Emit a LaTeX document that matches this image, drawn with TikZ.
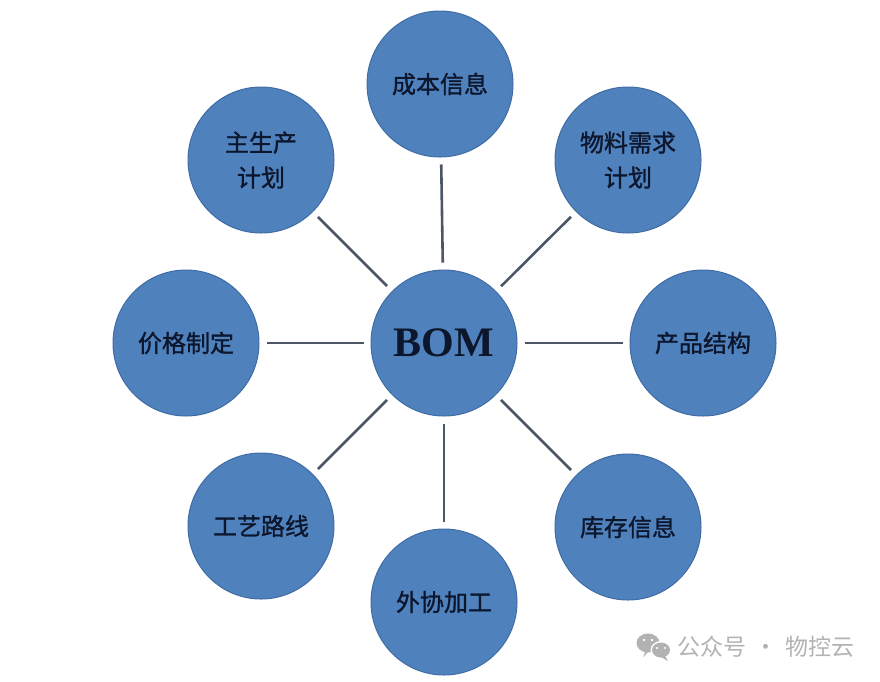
\documentclass[tikz,border=0pt]{standalone}
\usepackage{fontspec}
\setmainfont{Liberation Serif}
\newfontfamily\cjk[FakeBold=1.2]{Noto Sans CJK SC}
\newfontfamily\cjkwm{Noto Sans CJK SC}
\definecolor{circfill}{RGB}{79,129,189}
\definecolor{circdraw}{RGB}{64,108,165}
\definecolor{linkcol}{RGB}{76,86,100}
\definecolor{txtcol}{RGB}{12,22,44}
\definecolor{wmcol}{RGB}{178,178,178}
\begin{document}
\begin{tikzpicture}[x=1pt,y=-1pt,
  bubble/.style={circle,fill=circfill,draw=circdraw,line width=1pt,minimum size=146pt,inner sep=0pt,
    font=\cjk\fontsize{24}{35}\selectfont,text=txtcol,align=center},
  link/.style={draw=linkcol,line width=2.6pt,shorten >=7pt,shorten <=7pt}]
\useasboundingbox (0,0) rectangle (880,681);
\node[bubble,font=\bfseries\fontsize{42}{42}\selectfont] (bom) at (444,343) {BOM};
\node[bubble] (cost) at (440,84) {成本信息};
\node[bubble] (mps) at (261,160) {主生产\\计划};
\node[bubble] (mrp) at (628,160) {物料需求\\计划};
\node[bubble] (price) at (186,343) {价格制定};
\node[bubble] (prod) at (703,343) {产品结构};
\node[bubble] (route) at (261,526) {工艺路线};
\node[bubble] (stock) at (628,527) {库存信息};
\node[bubble] (out) at (444,602) {外协加工};
\foreach \n in {cost,mps,mrp,price,prod,route,stock,out}
  \draw[link] (bom) -- (\n);
% watermark
\fill[wmcol] (648,643) ellipse (11.5pt and 9.5pt);
\fill[wmcol] (648,652) -- (643,657) -- (646,650) -- cycle;
\fill[white] (661,650) ellipse (10.5pt and 9pt);
\fill[wmcol] (661,650) ellipse (9pt and 7.5pt);
\fill[wmcol] (665,656) -- (668,661) -- (661,657) -- cycle;
\fill[white] (644,640) circle (1.4pt) (652,640) circle (1.4pt);
\fill[white] (657,648) circle (1.2pt) (665,648) circle (1.2pt);
\node[text=wmcol,font=\cjkwm\fontsize{23}{23}\selectfont,anchor=west,inner sep=0pt] (wm) at (677,647) {公众号\hspace{8pt}·\hspace{8pt}物控云};
\end{tikzpicture}
\end{document}
